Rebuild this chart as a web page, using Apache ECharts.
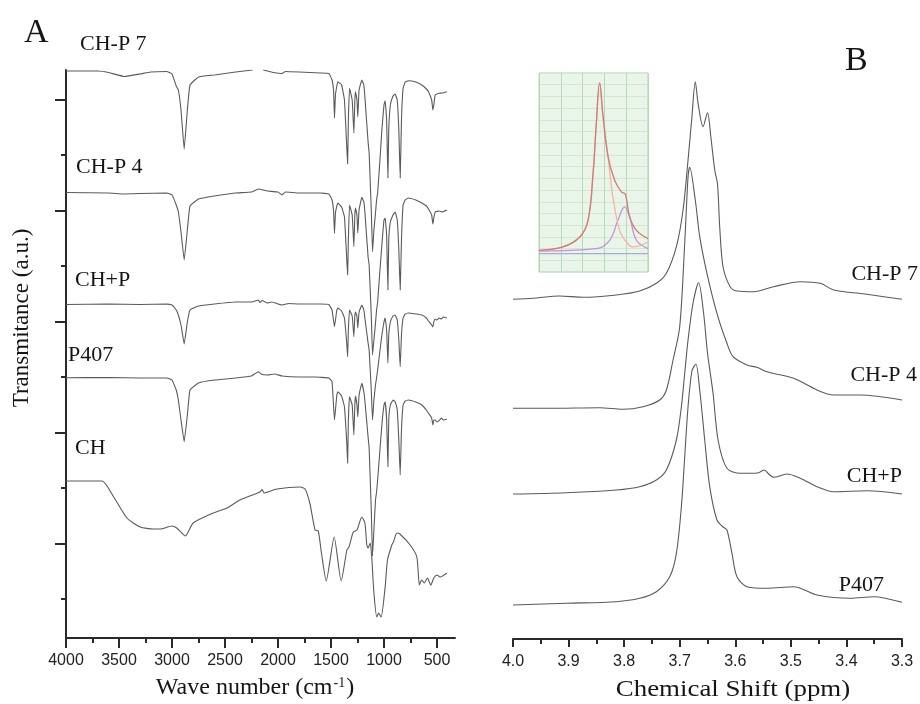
<!DOCTYPE html>
<html>
<head>
<meta charset="utf-8">
<script src="https://cdn.jsdelivr.net/npm/echarts@6/dist/echarts.min.js"></script>
<style>html,body{margin:0;background:#fff}#chart{width:920px;height:704px}</style>
</head>
<body>
<div id="chart"></div>
<script>
// ---- panel A : FTIR, [wave number, transmittance a.u.] ----
var ftirChp7 = [[4000,56.7],[3700,56.7],[3600,56.55],[3450,56.15],[3300,56.4],[3200,56.6],[3050,56.65],[3000,56.4],[2960,55.2],[2940,54.8],[2915,52.8],[2885,48.9],[2855,52.8],[2830,55.3],[2750,56.1],[2600,56.3],[2400,56.6],[2240,56.8],[2190,'-'],[2140,56.8],[2100,56.7],[2040,56.55],[1963,56.45],[1930,56.65],[1800,56.6],[1600,56.5],[1520,56.45],[1490,55.8],[1475,54.6],[1467,52.0],[1458,54.3],[1445,55.2],[1435,55.63],[1400,55.3],[1373,53.8],[1350,48.8],[1343,47.4],[1336,51.8],[1325,54.97],[1300,53.8],[1284,50.5],[1275,53.8],[1269,54.63],[1255,53.8],[1247,52.13],[1235,54.8],[1209,55.8],[1190,55.3],[1178,53.8],[1150,49.6],[1140,48.5],[1120,42.8],[1108,38.63],[1095,40.8],[1080,42.5],[1070,43.8],[1060,44.5],[1040,47.5],[1020,50.8],[1000,53.3],[989,53.73],[975,51.8],[963,46.0],[955,50.8],[940,53.3],[915,54.2],[895,54.4],[875,53.8],[860,50.8],[847,46.0],[835,51.8],[820,54.97],[800,55.6],[770,55.73],[700,55.6],[643,55.3],[600,54.9],[580,54.63],[550,53.8],[539,52.8],[530,53.3],[517,54.3],[480,54.47],[450,54.5],[407,54.63]];
var ftirChp4 = [[4000,44.55],[3600,44.5],[3450,44.4],[3300,44.45],[3050,44.5],[3000,44.3],[2960,43.3],[2940,42.6],[2915,40.6],[2885,37.8],[2855,40.8],[2830,43.2],[2750,43.9],[2600,44.2],[2400,44.5],[2250,44.6],[2185,44.9],[2100,44.7],[2000,44.6],[1963,44.3],[1930,44.6],[1800,44.5],[1600,44.5],[1520,44.4],[1490,43.8],[1475,42.6],[1467,40.47],[1458,42.5],[1445,43.2],[1435,43.5],[1400,43.1],[1373,42.13],[1350,37.6],[1343,36.3],[1336,39.8],[1325,43.3],[1300,42.3],[1284,39.13],[1275,42.3],[1269,43.0],[1255,42.3],[1247,40.5],[1235,42.8],[1209,44.07],[1190,43.6],[1178,42.3],[1150,38.1],[1140,37.3],[1120,32.3],[1108,28.3],[1095,29.8],[1080,31.5],[1070,32.8],[1060,33.6],[1040,36.5],[1020,39.3],[1000,41.8],[989,42.0],[975,40.3],[963,34.8],[955,39.8],[940,41.6],[915,42.3],[895,42.6],[875,41.8],[860,38.8],[847,34.8],[835,39.8],[820,43.3],[800,43.8],[770,44.0],[700,43.8],[643,43.5],[600,43.2],[580,42.9],[550,42.3],[539,41.4],[530,42.0],[517,42.6],[480,42.7],[450,42.6],[407,42.8]];
var ftirChP = [[4000,33.35],[3600,33.4],[3300,33.35],[3050,33.4],[3000,33.3],[2960,32.8],[2940,32.3],[2915,31.3],[2885,29.4],[2855,31.6],[2830,32.8],[2750,33.2],[2600,33.4],[2400,33.6],[2250,33.6],[2185,33.8],[2170,33.55],[2150,33.75],[2100,33.5],[2060,33.6],[1963,33.3],[1900,33.45],[1800,33.4],[1600,33.4],[1520,33.35],[1490,32.8],[1467,31.13],[1445,32.8],[1435,33.0],[1400,32.7],[1373,32.0],[1350,29.3],[1343,28.13],[1336,30.8],[1325,32.8],[1300,32.2],[1284,30.13],[1275,32.2],[1269,32.6],[1255,32.2],[1247,31.0],[1235,32.6],[1209,33.3],[1190,32.8],[1178,31.8],[1150,29.5],[1140,28.8],[1120,24.8],[1108,21.8],[1095,23.8],[1080,25.3],[1070,26.0],[1060,26.8],[1020,30.3],[1000,31.6],[989,32.0],[975,30.8],[963,27.5],[955,30.3],[940,31.6],[915,32.2],[895,32.3],[875,31.8],[860,29.8],[847,27.13],[835,30.3],[820,32.0],[800,32.4],[770,32.5],[700,32.4],[643,32.3],[600,32.0],[580,31.7],[550,31.3],[539,31.1],[530,31.6],[517,31.9],[500,31.8],[480,32.0],[460,31.9],[440,32.1],[407,32.0]];
var ftirP407 = [[4000,26.03],[3600,26.05],[3300,26.0],[3050,26.0],[3000,25.8],[2960,24.8],[2940,23.8],[2915,21.8],[2885,19.63],[2855,22.3],[2830,24.8],[2750,25.5],[2600,25.8],[2400,26.0],[2250,26.2],[2185,26.63],[2160,26.4],[2100,26.3],[2030,26.4],[1963,26.2],[1800,26.1],[1650,26.1],[1520,26.0],[1490,25.63],[1467,21.8],[1445,24.3],[1435,24.63],[1400,24.2],[1373,23.13],[1350,19.3],[1343,17.47],[1336,21.8],[1325,24.13],[1300,23.3],[1284,20.3],[1275,23.3],[1269,24.2],[1255,23.3],[1247,22.13],[1235,24.3],[1209,25.47],[1190,24.6],[1178,23.47],[1150,20.1],[1140,19.0],[1120,12.8],[1108,8.2],[1095,10.8],[1080,13.8],[1070,14.6],[1060,15.8],[1020,21.3],[1000,23.3],[989,23.63],[975,21.8],[963,17.13],[955,21.8],[940,23.3],[915,23.8],[895,23.63],[875,22.8],[860,19.8],[847,16.3],[835,20.8],[820,23.3],[800,23.7],[770,23.8],[700,23.6],[643,23.3],[600,22.8],[580,22.47],[550,22.0],[539,21.3],[530,21.8],[517,21.8],[500,21.6],[480,21.73],[460,22.0],[440,21.8],[407,21.87]];
var ftirCH = [[4000,15.7],[3660,15.7],[3550,14.1],[3425,12.0],[3300,11.1],[3175,10.9],[3110,10.9],[3000,11.2],[2955,11.0],[2875,10.2],[2800,11.5],[2610,12.5],[2480,13.0],[2360,13.8],[2170,14.6],[2150,14.85],[2130,14.5],[2010,14.9],[1790,15.1],[1745,14.9],[1700,13.5],[1650,10.8],[1620,10.7],[1590,8.5],[1545,5.7],[1470,10.1],[1404,5.7],[1350,8.8],[1330,9.1],[1290,10.6],[1255,10.8],[1209,12.1],[1180,11.5],[1162,9.3],[1150,9.0],[1130,9.5],[1115,8.0],[1095,4.5],[1068,2.1],[1050,2.5],[1027,2.1],[989,5.1],[967,7.8],[926,9.3],[911,9.6],[879,10.5],[850,10.4],[753,9.3],[690,8.1],[666,5.3],[645,5.8],[620,5.5],[590,6.0],[558,5.3],[530,6.0],[500,6.3],[470,6.1],[407,6.5]];
var wnLabels = [4000,3500,3000,2500,2000,1500,1000,500];
var wnMinor = [3750,3250,2750,2250,1750,1250,750];
var tYMajor = [9.45,20.55,31.65,42.75,53.85];
var tYMinor = [3.9,15,26.1,37.2,48.3];

// ---- panel B : 1H NMR, [ppm, intensity a.u.] ----
var nmrChp7 = [[4.0,33.97],[3.964,34.07],[3.916,34.3],[3.874,34.17],[3.814,34.4],[3.772,34.8],[3.742,35.57],[3.724,36.57],[3.706,39.23],[3.694,42.9],[3.685,47.9],[3.678,52.23],[3.672,55.73],[3.667,53.57],[3.658,51.23],[3.650,52.63],[3.644,50.23],[3.637,46.9],[3.632,45.5],[3.628,41.2],[3.622,37.2],[3.609,35.2],[3.597,34.8],[3.567,34.73],[3.531,35.23],[3.483,35.73],[3.447,35.57],[3.423,34.9],[3.363,34.47],[3.3,33.97]];
var nmrChp4 = [[4.0,23.07],[3.934,23.07],[3.844,23.13],[3.802,22.97],[3.766,23.23],[3.736,23.9],[3.724,24.9],[3.712,27.9],[3.700,31.23],[3.691,39.57],[3.685,46.23],[3.682,47.17],[3.672,43.9],[3.664,40.23],[3.651,36.57],[3.633,32.57],[3.615,29.57],[3.604,28.23],[3.579,27.4],[3.561,27.17],[3.543,26.73],[3.495,26.07],[3.453,24.9],[3.423,24.4],[3.375,24.4],[3.3,23.9]];
var nmrChP = [[4.0,14.5],[3.904,14.63],[3.814,14.9],[3.772,15.23],[3.742,15.9],[3.724,16.9],[3.706,19.9],[3.697,23.23],[3.691,26.57],[3.685,29.9],[3.676,33.6],[3.666,35.63],[3.657,32.57],[3.650,28.6],[3.640,24.57],[3.631,19.9],[3.615,17.07],[3.591,16.57],[3.573,16.57],[3.558,16.63],[3.548,16.9],[3.538,16.4],[3.531,16.17],[3.507,16.5],[3.483,16.07],[3.453,15.23],[3.423,14.73],[3.363,14.83],[3.3,14.5]];
var nmrP407 = [[4.0,3.4],[3.904,3.57],[3.814,3.73],[3.772,4.07],[3.742,4.73],[3.718,6.23],[3.706,8.57],[3.697,13.23],[3.691,18.23],[3.685,23.23],[3.678,26.8],[3.671,27.5],[3.664,24.9],[3.655,19.9],[3.646,15.23],[3.633,11.9],[3.622,11.2],[3.615,10.9],[3.606,8.57],[3.597,6.23],[3.579,5.23],[3.543,5.07],[3.495,5.23],[3.453,4.4],[3.393,4.07],[3.351,4.23],[3.3,3.67]];

// inset: peak fit
var insetTotal = [[0,1.85],[1.1,2.14],[1.87,2.99],[2.25,4.42],[2.48,8.41],[2.63,12.68],[2.78,16.15],[2.94,13.25],[3.17,9.83],[3.47,7.84],[3.78,6.84],[3.96,6.64],[4.16,4.7],[4.47,3.56],[5,2.85]];
var insetMain = [[0,1.85],[1.1,2.14],[1.87,2.99],[2.25,4.42],[2.48,8.41],[2.63,12.68],[2.78,16.15],[2.94,13.25],[3.17,9.83],[3.39,6.41],[3.7,3.56],[4.01,2.56],[4.31,2.14],[5,2.56]];
var insetSide = [[0,1.79],[2.63,2.0],[3.24,2.71],[3.62,4.42],[3.93,5.56],[4.16,4.7],[4.47,2.71],[5,2.0]];
var insetBase = [[0,1.57],[5,1.57]];

var serif = '"Liberation Serif", "DejaVu Serif", serif';
var sans = '"Liberation Sans", Arial, sans-serif';
var lineCol = '#5a5a5a';
var axisCol = '#2a2a2a';

function spec(data, xi, yi, smooth) {
    return {
        type: 'line', data: data, xAxisIndex: xi, yAxisIndex: yi,
        showSymbol: false, smooth: smooth, connectNulls: false,
        lineStyle: {color: lineCol, width: 1.1}
    };
}
function fit(data, col) {
    return {
        type: 'line', data: data, xAxisIndex: 3, yAxisIndex: 3,
        showSymbol: false, smooth: 0.4, lineStyle: {color: col, width: 1.3}
    };
}
function lbl(text, x, y, align, size) {
    return {
        type: 'text', x: x, y: y,
        style: {text: text, font: (size || 22) + 'px ' + serif, fill: '#151515',
            textAlign: align, align: align, textVerticalAlign: 'middle', verticalAlign: 'middle'}
    };
}

var myChart = echarts.init(document.getElementById('chart'));

var option = {
    animation: false,
    backgroundColor: '#fff',
    grid: [
        {left: 66, top: 70, width: 389, height: 568},
        {left: 513, top: 70, width: 389, height: 569},
        {left: 539, top: 73, width: 109, height: 199, show: true,
            backgroundColor: '#eaf5ea', borderColor: '#a8d3a8', borderWidth: 1}
    ],
    xAxis: [
        {gridIndex: 0, type: 'value', inverse: true, min: 330, max: 4000, position: 'bottom',
            axisLine: {lineStyle: {color: axisCol, width: 2}},
            axisTick: {customValues: wnLabels, length: 10, lineStyle: {color: axisCol, width: 2}},
            axisLabel: {customValues: wnLabels, margin: 15, fontFamily: sans, fontSize: 16, color: '#222',
                formatter: function (v) { return String(v); }},
            splitLine: {show: false}},
        {gridIndex: 0, type: 'value', inverse: true, min: 330, max: 4000, position: 'bottom', offset: 0,
            axisLine: {show: false},
            axisTick: {customValues: wnMinor, length: 5, lineStyle: {color: axisCol, width: 2}},
            axisLabel: {show: false}, splitLine: {show: false}},
        {gridIndex: 1, type: 'value', inverse: true, min: 3.3, max: 4.0, interval: 0.1, position: 'bottom',
            axisLine: {lineStyle: {color: axisCol, width: 2}},
            axisTick: {length: 8, lineStyle: {color: axisCol, width: 2}},
            minorTick: {show: true, splitNumber: 2, length: 5, lineStyle: {color: axisCol, width: 2}},
            axisLabel: {margin: 15, fontFamily: sans, fontSize: 16, color: '#222',
                formatter: function (v) { return v.toFixed(1); }},
            splitLine: {show: false}},
        {gridIndex: 2, type: 'value', min: 0, max: 5, interval: 1,
            axisLine: {show: false}, axisTick: {show: false}, axisLabel: {show: false},
            splitLine: {show: true, lineStyle: {color: '#b9dab9', width: 1}}}
    ],
    yAxis: [
        {gridIndex: 0, type: 'value', min: 0, max: 56.8, position: 'left',
            axisLine: {show: true, lineStyle: {color: axisCol, width: 2}},
            axisTick: {show: true, customValues: tYMajor, length: 11, lineStyle: {color: axisCol, width: 2}},
            axisLabel: {show: false}, splitLine: {show: false}},
        {gridIndex: 0, type: 'value', min: 0, max: 56.8, position: 'left', offset: 0,
            axisLine: {show: false},
            axisTick: {show: true, customValues: tYMinor, length: 5, lineStyle: {color: axisCol, width: 2}},
            axisLabel: {show: false}, splitLine: {show: false}},
        {gridIndex: 1, type: 'value', min: 0, max: 56.9, show: false},
        {gridIndex: 2, type: 'value', min: 0, max: 17, interval: 1,
            axisLine: {show: false}, axisTick: {show: false}, axisLabel: {show: false},
            splitLine: {show: true, lineStyle: {color: '#d2e8d2', width: 1}}}
    ],
    series: [
        spec(ftirChp7, 0, 0, 0.1),
        spec(ftirChp4, 0, 0, 0.1),
        spec(ftirChP, 0, 0, 0.1),
        spec(ftirP407, 0, 0, 0.1),
        spec(ftirCH, 0, 0, 0.2),
        spec(nmrChp7, 2, 2, 0.3),
        spec(nmrChp4, 2, 2, 0.3),
        spec(nmrChP, 2, 2, 0.3),
        spec(nmrP407, 2, 2, 0.3),
        fit(insetBase, '#a3acdf'),
        fit(insetSide, '#c58fdc'),
        fit(insetMain, '#f1b4a4'),
        fit(insetTotal, '#cf7c72')
    ],
    graphic: [
        lbl('A', 24, 33, 'left', 34),
        lbl('B', 845, 61, 'left', 34),
        lbl('CH-P 7', 80, 44, 'left'),
        lbl('CH-P 4', 76, 167, 'left'),
        lbl('CH+P', 75, 280, 'left'),
        lbl('P407', 68, 355, 'left'),
        lbl('CH', 75, 448, 'left'),
        lbl('CH-P 7', 918, 274, 'right'),
        lbl('CH-P 4', 917, 375, 'right'),
        lbl('CH+P', 902, 476, 'right'),
        lbl('P407', 884, 585, 'right'),
        {type: 'text', x: 22, y: 318, rotation: Math.PI / 2,
            style: {text: 'Transmitance (a.u.)', font: '23px ' + serif, fill: '#151515',
                textAlign: 'center', align: 'center', textVerticalAlign: 'middle', verticalAlign: 'middle'}},
        {type: 'text', x: 255, y: 688,
            style: {text: '{a|Wave number (cm}{s|-1}{a|)}', fill: '#151515',
                textAlign: 'center', align: 'center', textVerticalAlign: 'middle', verticalAlign: 'middle',
                rich: {a: {font: '24px ' + serif, fill: '#151515'},
                       s: {font: '14px ' + serif, fill: '#151515', verticalAlign: 'top', padding: [0, 1, 10, 1]}}}},
        {type: 'text', x: 733, y: 690, scaleX: 1.12,
            style: {text: 'Chemical Shift (ppm)', font: '24px ' + serif, fill: '#151515',
                textAlign: 'center', align: 'center', textVerticalAlign: 'middle', verticalAlign: 'middle'}}
    ]
};

myChart.setOption(option);
</script>
</body>
</html>
